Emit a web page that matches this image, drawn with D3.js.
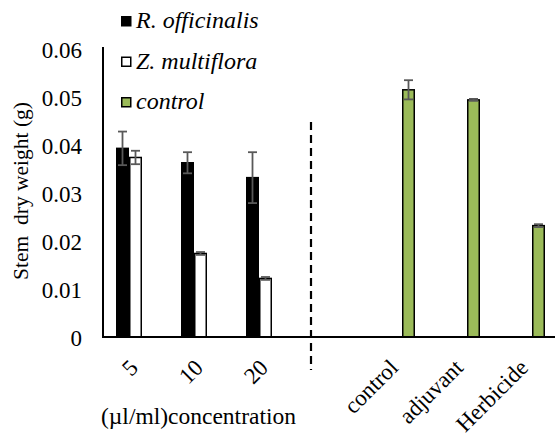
<!DOCTYPE html>
<html>
<head>
<meta charset="utf-8">
<script src="https://cdn.jsdelivr.net/npm/d3@7"></script>
<style>
  body { margin: 0; background: #fff; }
  svg text { font-family: "Liberation Serif", "Times New Roman", Times, serif; fill: #000; }
</style>
</head>
<body>
<script>
"use strict";

// categories, blank slot between the two groups
const categories = ["5", "10", "20", "", "control", "adjuvant", "Herbicide"];
const series = ["R. officinalis", "Z. multiflora", "control"];

// values per series (null = no bar)
const rValues = [0.0393, 0.0363, 0.0332, null, null, null, null];
const rErrors = [0.0035, 0.0022, 0.0053, null, null, null, null];
const zValues = [0.0374, 0.0174, 0.0122, null, null, null, null];
const zErrors = [0.0014, 0.0003, 0.0003, null, null, null, null];
const cValues = [null, null, null, null, 0.0515, 0.0494, 0.0232];
const cErrors = [null, null, null, null, 0.0020, 0.0002, 0.0003];

const yTicks = [0, 0.01, 0.02, 0.03, 0.04, 0.05, 0.06];

const width = 555;
const height = 437;

let colors = d3.scaleOrdinal()
    .domain(series)
    .range(["#000000", "#ffffff", "#9bbb59"]);

let svg = d3.select("body").append("svg")
    .attr("width", width)
    .attr("height", height)
    .attr("font-family", "Liberation Serif");

let x0 = d3.scaleBand()
    .domain(categories)
    .range([103, 558])
    .paddingInner(0.4)
    .paddingOuter(0.2);

let x1 = d3.scaleBand()
    .domain(series)
    .range([0, x0.bandwidth()]);

let y = d3.scaleLinear()
    .domain([0, 0.06])
    .range([337, 49]);

// build rows for bars
let allValues = [rValues, zValues, cValues];
let allErrors = [rErrors, zErrors, cErrors];
let bars = [];
series.forEach(function(s, si) {
    categories.forEach(function(c, ci) {
        if (allValues[si][ci] !== null) {
            bars.push({ series: s, cat: c, value: allValues[si][ci], err: allErrors[si][ci] });
        }
    });
});

svg.selectAll("rect.bar")
    .data(bars)
    .enter()
    .append("rect")
    .attr("class", "bar")
    .attr("x", d => x0(d.cat) + x1(d.series) + 0.75)
    .attr("width", x1.bandwidth() - 1.5)
    .attr("y", d => y(d.value))
    .attr("height", d => y(0) - y(d.value))
    .style("fill", d => colors(d.series))
    .style("stroke", "#000")
    .style("stroke-width", 1.5);

// error bars
let eb = svg.selectAll("g.err")
    .data(bars)
    .enter()
    .append("g")
    .attr("class", "err")
    .attr("transform", d => "translate(" + (x0(d.cat) + x1(d.series) + x1.bandwidth() / 2) + ",0)")
    .style("stroke", "#595959")
    .style("stroke-width", 1.8);

eb.append("line")
    .attr("y1", d => y(d.value + d.err))
    .attr("y2", d => y(d.value - d.err));
eb.append("line")
    .attr("x1", -4.5).attr("x2", 4.5)
    .attr("y1", d => y(d.value + d.err))
    .attr("y2", d => y(d.value + d.err));
eb.append("line")
    .attr("x1", -4.5).attr("x2", 4.5)
    .attr("y1", d => y(d.value - d.err))
    .attr("y2", d => y(d.value - d.err));

// y axis
let yAxis = svg.append("g")
    .attr("transform", "translate(103,0)")
    .call(d3.axisLeft(y).tickValues(yTicks).tickSize(0).tickPadding(21)
        .tickFormat(d => d === 0 ? "0" : d3.format(".2f")(d)));
yAxis.attr("font-family", null).attr("font-size", null);
yAxis.select(".domain").attr("stroke-width", 2).attr("d", "M0,47V338");
yAxis.selectAll("text")
    .style("font-size", "23px")
    .attr("dy", "0.35em");

// x axis line
svg.append("line")
    .attr("x1", 102).attr("x2", width)
    .attr("y1", y(0)).attr("y2", y(0))
    .style("stroke", "#000")
    .style("stroke-width", 2);

// x tick labels, rotated
svg.selectAll("text.xlab")
    .data(categories.filter(c => c !== ""))
    .enter()
    .append("text")
    .attr("class", "xlab")
    .attr("text-anchor", "end")
    .attr("transform", d => "translate(" + (x0(d) + x0.bandwidth() / 2 + 4) + ",369) rotate(-45)")
    .style("font-size", "23px")
    .text(d => d);

// dashed divider
svg.append("line")
    .attr("x1", x0("")).attr("x2", x0(""))
    .attr("y1", 122).attr("y2", 370)
    .style("stroke", "#000")
    .style("stroke-width", 2.2)
    .style("stroke-dasharray", "8,5");

// y axis title
svg.append("text")
    .attr("transform", "translate(28,191) rotate(-90)")
    .attr("text-anchor", "middle")
    .style("font-size", "21.5px")
    .style("white-space", "pre")
    .text("Stem  dry weight (g)");

// x axis title
svg.append("text")
    .attr("x", 101)
    .attr("y", 424)
    .style("font-size", "23.5px")
    .text("(\u00b5l/ml)concentration");

// legend
let legend = svg.selectAll("g.legend")
    .data(series)
    .enter()
    .append("g")
    .attr("class", "legend")
    .attr("transform", (d, i) => "translate(121," + (16 + i * 40.5) + ")");

legend.append("rect")
    .attr("x", 0.75).attr("y", 0.75)
    .attr("width", 9).attr("height", 9)
    .style("fill", d => colors(d))
    .style("stroke", "#000")
    .style("stroke-width", 1.5);

legend.append("text")
    .attr("x", 15)
    .attr("y", 12)
    .style("font-size", "24px")
    .style("font-style", "italic")
    .text(d => d);

</script>
</body>
</html>
